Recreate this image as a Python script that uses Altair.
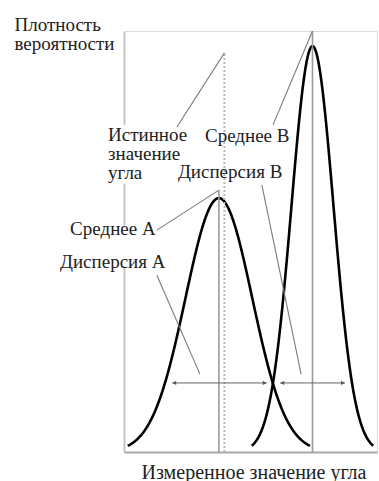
import altair as alt
import numpy as np
import pandas as pd

# Two measurement distributions (A wide, B narrow) of the same angle
series = ["A", "B"]
means = [37.5, 74.5]
sigmas = [13.2, 8.3]
peaks = [0.603, 0.964]
x_from = [1.5, 50.5]
x_to = [73.5, 98.5]

true_angle = 39.7
true_top = 0.948
mean_tops = [0.622, 1.0]

# spread markers (horizontal double arrows)
spread_level = 0.164
spread_left = [19.0, 61.7]
spread_right = [56.5, 87.4]

# callout labels: text, x, y (baseline)
label_text = ["Истинное", "значение", "угла", "Среднее B", "Дисперсия B",
              "Среднее A", "Дисперсия A"]
label_x = [-6.3, -6.3, -6.3, 32.0, 21.3, -21.3, -25.3]
label_y = [0.7387, 0.6936, 0.6485, 0.736, 0.651, 0.515, 0.437]

# leader lines from labels to the features they name
lead_x1 = [20.9, 58.9, 54.5, 13.0, 13.0]
lead_y1 = [0.772, 0.777, 0.634, 0.527, 0.420]
lead_x2 = [39.7, 74.5, 70.0, 37.5, 30.0]
lead_y2 = [0.948, 1.0, 0.185, 0.622, 0.185]

# stretches of the vertical axis hidden behind the label blocks
gap_lo = [0.637, 0.439]
gap_hi = [0.777, 0.539]

FONT = "Liberation Serif"
FS = 19

rows = []
for s, m, sd, pk, a, b in zip(series, means, sigmas, peaks, x_from, x_to):
    for xv in np.linspace(a, b, 240):
        rows.append({"series": s, "x": xv, "y": pk * np.exp(-0.5 * ((xv - m) / sd) ** 2)})
curves = pd.DataFrame(rows)

xs = alt.Scale(domain=[0, 100], nice=False, zero=False)
ys = alt.Scale(domain=[0, 1], nice=False, zero=False)

base_x = alt.X("x:Q", scale=xs,
               axis=alt.Axis(title="Измеренное значение угла", labels=False, ticks=False,
                             grid=False, domainColor="#a8a8a8", domainWidth=2,
                             titleFont=FONT, titleFontSize=20, titleFontWeight="normal",
                             titleColor="#222", titleX=129.5, titleY=26,
                             titleAlign="center", titleBaseline="alphabetic"))
base_y = alt.Y("y:Q", scale=ys,
               axis=alt.Axis(title=["Плотность", "вероятности"], labels=False, ticks=False,
                             grid=False, domainColor="#c4c4c4", domainWidth=2,
                             titleFont=FONT, titleFontSize=FS, titleFontWeight="normal",
                             titleColor="#222", titleAngle=0, titleAlign="left",
                             titleBaseline="alphabetic", titleX=-110, titleY=-1,
                             titleLineHeight=19))

curve_layer = alt.Chart(curves).mark_line(color="black", strokeWidth=2.6).encode(
    x=base_x, y=base_y, detail="series:N")

gap_df = pd.DataFrame({"x": [-3.0, -3.0], "x2": [3.0, 3.0], "y": gap_lo, "y2": gap_hi})
gap_layer = alt.Chart(gap_df).mark_rect(color="white").encode(
    x=alt.X("x:Q", scale=xs), x2="x2:Q", y=alt.Y("y:Q", scale=ys), y2="y2:Q")

mean_df = pd.DataFrame({"x": means, "y": [0, 0], "y2": mean_tops})
mean_layer = alt.Chart(mean_df).mark_rule(color="#9a9a9a", strokeWidth=1.6).encode(
    x=alt.X("x:Q", scale=xs), y=alt.Y("y:Q", scale=ys), y2="y2:Q")

true_df = pd.DataFrame({"x": [true_angle], "y": [0], "y2": [true_top]})
true_layer = alt.Chart(true_df).mark_rule(color="#b8b8b8", strokeWidth=2,
                                          strokeDash=[2, 2]).encode(
    x=alt.X("x:Q", scale=xs), y=alt.Y("y:Q", scale=ys), y2="y2:Q")

spread_df = pd.DataFrame({"x": spread_left, "x2": spread_right,
                          "y": [spread_level] * 2})
spread_layer = alt.Chart(spread_df).mark_rule(color="#666", strokeWidth=1).encode(
    x=alt.X("x:Q", scale=xs), x2="x2:Q", y=alt.Y("y:Q", scale=ys))

left_tips = pd.DataFrame({"x": [v + 0.9 for v in spread_left], "y": [spread_level] * 2})
right_tips = pd.DataFrame({"x": [v - 0.9 for v in spread_right], "y": [spread_level] * 2})
tip_l = alt.Chart(left_tips).mark_point(shape="triangle-left", filled=True, size=18,
                                        color="#555", opacity=1).encode(
    x=alt.X("x:Q", scale=xs), y=alt.Y("y:Q", scale=ys))
tip_r = alt.Chart(right_tips).mark_point(shape="triangle-right", filled=True, size=18,
                                         color="#555", opacity=1).encode(
    x=alt.X("x:Q", scale=xs), y=alt.Y("y:Q", scale=ys))

lead_df = pd.DataFrame({"x": lead_x1, "y": lead_y1, "x2": lead_x2, "y2": lead_y2})
lead_layer = alt.Chart(lead_df).mark_rule(color="#7a7a7a", strokeWidth=1.1).encode(
    x=alt.X("x:Q", scale=xs), y=alt.Y("y:Q", scale=ys), x2="x2:Q", y2="y2:Q")

label_df = pd.DataFrame({"t": label_text, "x": label_x, "y": label_y})
label_layer = alt.Chart(label_df).mark_text(font=FONT, fontSize=FS, color="#222",
                                            align="left", baseline="alphabetic").encode(
    x=alt.X("x:Q", scale=xs), y=alt.Y("y:Q", scale=ys), text="t:N")

chart = alt.layer(
    curve_layer, gap_layer, true_layer, mean_layer, spread_layer, tip_l, tip_r,
    lead_layer, label_layer
).properties(
    width=253, height=421,
    padding={"left": 124, "top": 31, "right": 2, "bottom": 29},
    autosize="none",
).configure_view(stroke=None).configure(background="white")

chart.save("out.html", embed_options={"renderer": "svg", "actions": False})
